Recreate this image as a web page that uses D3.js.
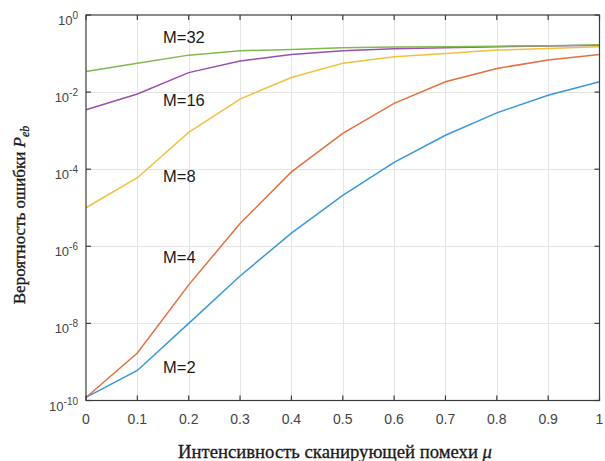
<!DOCTYPE html>
<html>
<head>
<meta charset="utf-8">
<script src="https://cdn.jsdelivr.net/npm/d3@7"></script>
<style>
  body { margin: 0; background: #fff; }
  svg { display: block; }
</style>
</head>
<body>
<div id="chart"></div>
<script>
// intensity of the jamming signal
var mu = [0, 0.1, 0.2, 0.3, 0.4, 0.5, 0.6, 0.7, 0.8, 0.9, 1.0];

// bit error probability for each M
var pM2  = [1.2e-10, 6e-10, 1e-8, 1.7e-7, 2.2e-6, 2.1e-5, 1.5e-4, 7.6e-4, 2.9e-3, 8.3e-3, 1.85e-2];
var pM4  = [1.2e-10, 1.7e-9, 1e-7, 3.9e-6, 8.5e-5, 8.5e-4, 5.1e-3, 1.85e-2, 4.1e-2, 6.8e-2, 9.5e-2];
var pM8  = [1e-5, 6e-5, 9e-4, 6.6e-3, 2.4e-2, 5.6e-2, 8.3e-2, 0.10, 0.123, 0.136, 0.15];
var pM16 = [3.5e-3, 8.9e-3, 3.2e-2, 6.4e-2, 9.5e-2, 0.118, 0.133, 0.142, 0.15, 0.157, 0.163];
var pM32 = [3.4e-2, 5.6e-2, 9.1e-2, 0.118, 0.128, 0.142, 0.148, 0.15, 0.155, 0.16, 0.17];

var seriesNames = ["M=2", "M=4", "M=8", "M=16", "M=32"];
var seriesColors = ["#3a98d8", "#e5703f", "#f3c141", "#9a50b0", "#83b84e"];
// where the text labels sit (data coords, baseline)
var labelMu = [0.15, 0.15, 0.15, 0.15, 0.15];
var labelP = [5.1e-10, 3.6e-7, 4.6e-5, 4.3e-3, 0.19];

var xTicks = [0, 0.1, 0.2, 0.3, 0.4, 0.5, 0.6, 0.7, 0.8, 0.9, 1];
var yExps = [0, -2, -4, -6, -8, -10];

var width = 605, height = 461;
var margin = { left: 86, right: 5.5, top: 15, bottom: 60.5 };

var svg = d3.select("#chart").append("svg")
  .attr("width", width)
  .attr("height", height);

var x = d3.scaleLinear().domain([0, 1]).range([margin.left, width - margin.right]);
var y = d3.scaleLog().domain([1e-10, 1]).range([height - margin.bottom, margin.top]);

var yTickVals = yExps.map(function(e) { return Math.pow(10, e); });

// grid
var grid = svg.append("g").attr("stroke", "#e4e4e4").attr("stroke-width", 1);
grid.selectAll(".gx").data(xTicks.slice(1, -1)).enter().append("line")
  .attr("x1", function(d) { return Math.round(x(d)) + 0.5; })
  .attr("x2", function(d) { return Math.round(x(d)) + 0.5; })
  .attr("y1", y.range()[1]).attr("y2", y.range()[0]);
grid.selectAll(".gy").data(yTickVals.slice(1, -1)).enter().append("line")
  .attr("y1", function(d) { return Math.round(y(d)) + 0.5; })
  .attr("y2", function(d) { return Math.round(y(d)) + 0.5; })
  .attr("x1", x.range()[0]).attr("x2", x.range()[1]);

// lines
var allSeries = [pM2, pM4, pM8, pM16, pM32];
var line = d3.line()
  .x(function(d, i) { return x(mu[i]); })
  .y(function(d) { return y(d); });

svg.selectAll(".series").data(allSeries).enter().append("path")
  .attr("class", "series")
  .attr("d", line)
  .attr("fill", "none")
  .attr("stroke", function(d, i) { return seriesColors[i]; })
  .attr("stroke-width", 1.5);

// box with inward ticks
var axisColor = "#3c3c3c";
var tickLen = 5;
var box = svg.append("g").attr("stroke", axisColor).attr("stroke-width", 1.2).attr("fill", "none");
box.append("rect")
  .attr("x", x.range()[0]).attr("y", y.range()[1])
  .attr("width", x.range()[1] - x.range()[0])
  .attr("height", y.range()[0] - y.range()[1]);
xTicks.forEach(function(t) {
  box.append("line").attr("x1", x(t)).attr("x2", x(t))
    .attr("y1", y.range()[0]).attr("y2", y.range()[0] - tickLen);
  box.append("line").attr("x1", x(t)).attr("x2", x(t))
    .attr("y1", y.range()[1]).attr("y2", y.range()[1] + tickLen);
});
yTickVals.forEach(function(t) {
  box.append("line").attr("y1", y(t)).attr("y2", y(t))
    .attr("x1", x.range()[0]).attr("x2", x.range()[0] + tickLen);
  box.append("line").attr("y1", y(t)).attr("y2", y(t))
    .attr("x1", x.range()[1]).attr("x2", x.range()[1] - tickLen);
});

// x tick labels
svg.selectAll(".xlab").data(xTicks).enter().append("text")
  .attr("x", function(d) { return x(d); })
  .attr("y", 424)
  .attr("text-anchor", "middle")
  .style("font-family", "Liberation Sans, Arial, sans-serif")
  .style("font-size", "14px")
  .style("fill", "#444")
  .text(function(d) { return d3.format("~g")(d); });

// y tick labels 10^n
yExps.forEach(function(e) {
  var ty = y(Math.pow(10, e));
  var t = svg.append("text")
    .attr("x", 78)
    .attr("y", ty + 10)
    .attr("text-anchor", "end")
    .style("font-family", "Liberation Sans, Arial, sans-serif")
    .style("fill", "#444");
  t.append("tspan").style("font-size", "13px").text("10");
  t.append("tspan").style("font-size", "10px").attr("dy", -6).text(e === 0 ? "0" : "-" + Math.abs(e));
});

// series labels
svg.selectAll(".mlab").data(seriesNames).enter().append("text")
  .attr("x", function(d, i) { return x(labelMu[i]); })
  .attr("y", function(d, i) { return y(labelP[i]); })
  .style("font-family", "Liberation Sans, Arial, sans-serif")
  .style("font-size", "16.5px")
  .style("fill", "#1a1a1a")
  .text(function(d) { return d; });

// axis titles
var xt = svg.append("text")
  .attr("x", 335)
  .attr("y", 458)
  .attr("text-anchor", "middle")
  .style("font-family", "Liberation Serif, Times New Roman, serif")
  .style("font-size", "18.7px")
  .style("fill", "#1a1a1a")
  .style("stroke", "#1a1a1a")
  .style("stroke-width", "0.3px");
xt.append("tspan").text("Интенсивность сканирующей помехи ");
xt.append("tspan").style("font-style", "italic").text("μ");

var yt = svg.append("text")
  .attr("transform", "translate(25," + 215 + ") rotate(-90)")
  .attr("text-anchor", "middle")
  .style("font-family", "Liberation Serif, Times New Roman, serif")
  .style("font-size", "17px")
  .style("fill", "#1a1a1a")
  .style("stroke", "#1a1a1a")
  .style("stroke-width", "0.3px");
yt.append("tspan").text("Вероятность ошибки ");
yt.append("tspan").style("font-style", "italic").text("P");
yt.append("tspan").style("font-style", "italic").style("font-size", "12px").attr("dy", 4).text("eb");
</script>
</body>
</html>
